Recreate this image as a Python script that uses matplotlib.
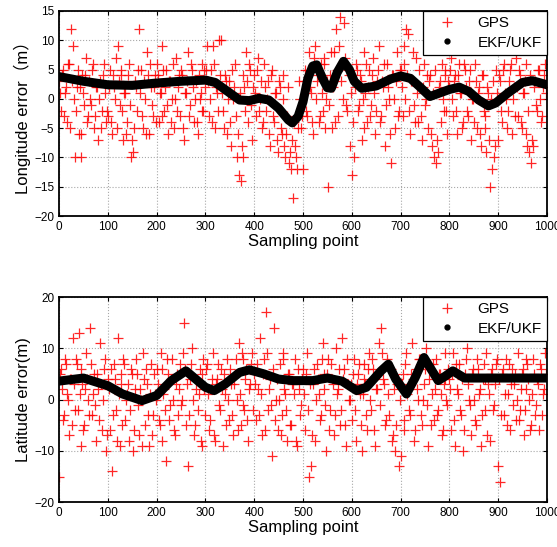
import numpy as np
import matplotlib
matplotlib.use('Agg')
import matplotlib.pyplot as plt

plt.rcParams['font.family'] = ['Liberation Sans', 'Noto Sans CJK SC']

# GPS samples: set A at 0,4,...,996 and set B at 2,6,...,998
gps_x_a = list(range(0, 1000, 4))
gps_x_b = list(range(2, 1000, 4))

lon_gps_a = [
    3, -2, 5, 1, -4, 6, 12, 9, -10, 2, -6, -10, 4, -1, 7, -3, 0, 5, -5, 2, -7, 3, -2, 6, -4,
    -3, 5, -6, 2, 7, 9, -1, 4, -7, 1, -4, 6, -10, -9, 3, -2, 12, 5, -5, 0, 8, -6, 2, -3, 4,
    6, -4, 1, 9, -2, 5, -6, 3, 0, -5, 7, 2, -3, 4, -7, 1, 8, -1, 5, -4, 3, -6, 0, 6, -2,
    2, 9, -3, 5, 9, -5, 1, 10, 10, -2, 4, -6, 3, -8, 0, 6, -10, -13, -14, -10, 2, 8, -4, 5, -7,
    4, -3, 7, 0, -5, 6, -2, 3, -8, 5, -4, 1, -9, 2, -6, 4, -10, -3, -11, -12, -17, -8, -12, 3, -5,
    -12, 5, -3, 8, 1, -6, 9, 3, -4, 6, -2, 7, 0, -15, 4, -5, 8, 12, -3, 14, 6, 13, -1, 5, -8,
    -13, -10, 6, -2, 4, -7, 8, 1, -4, 5, -1, 7, -6, 3, 9, -3, 2, -8, 6, 0, -11, 4, -5, 8, -2,
    5, -3, 9, 12, 11, -6, 3, -1, 7, -4, 2, -7, 6, 0, -5, 4, -8, -10, -11, -9, 3, 6, -2, 5, -6,
    2, 7, -3, 4, -6, 6, 1, -4, 5, -2, 3, -7, 0, 6, -5, 2, -8, 4, -3, -9, 1, -15, -12, -10, 5,
    -7, 3, -4, 6, 0, -2, 5, -6, 2, 7, -3, 4, -5, 1, 6, -8, -9, -11, -8, 3, -2, 5, -4, 2, 6,
]
lon_gps_b = [
    1, 4, -3, 2, 6, -5, 3, 0, -2, 5, 2, -6, 1, 4, -4, 3, -1, 6, -3, 2, 0, -5, 4, 1, -2,
    2, -4, 4, 0, -5, 3, 5, -2, 1, -6, 4, -1, -7, -5, 2, 5, 1, -3, 3, -6, 4, 6, -1, 2, -4,
    4, 1, -3, 5, 2, -1, 3, -4, 6, 0, -2, 4, 5, -5, 1, 3, -3, 6, 2, 0, -4, 4, 1, -2, 5,
    5, 3, 0, -4, 6, 2, -2, 4, 1, -5, 3, 0, -4, 5, 2, -3, -6, 1, -8, 4, -2, 3, 6, -1, 2,
    1, 5, -2, 3, -4, 2, 0, -6, 4, -3, 1, -7, 3, -5, 0, -8, -6, 2, -9, -7, -4, -10, -5, 0, -3,
    3, -2, 5, 2, -4, 7, 0, 4, -3, 1, 6, -5, 3, -1, 8, 2, -4, 5, 9, 3, 0, 7, -2, 4, 1,
    -4, 2, 5, -1, 3, 0, -5, 6, 2, -3, 4, 1, -2, 5, -4, 3, 6, -1, 2, -6, 4, 0, 3, -3, 5,
    2, 6, 0, 4, -2, 3, 8, -4, 1, 5, -3, 2, -1, 4, 3, -6, 1, 5, -7, 2, -4, 0, 4, -2, 3,
    5, 0, 3, -2, 4, 1, -5, 6, 2, -3, 5, 0, -4, 3, 1, -6, 4, -2, -5, 2, -7, 0, 3, -8, 1,
    4, -2, 5, 1, -5, 3, 6, 0, -3, 2, 5, -4, 1, 3, -6, -2, 4, -7, 2, -1, 5, 0, -3, 4, 1,
]

lat_gps_a = [
    -15, 6, -4, 8, 1, -7, 4, 12, -2, 7, 13, -9, 3, -5, 9, 0, 14, -3, 5, -8, 2, 11, -6, 6, -10,
    4, -6, -14, 7, -2, 12, -9, 3, 8, -4, 1, -8, 6, -10, 2, 5, -7, 0, 9, -5, 3, -9, 7, -3, 1,
    6, -4, 9, -8, 2, -12, 5, -1, 8, -6, 3, -3, 7, 0, 15, -5, -13, 4, 10, -7, 2, -2, 6, -9, 8,
    -3, 7, -6, 2, 9, -8, 4, -1, 6, -9, 1, 8, -4, 3, -7, 5, 0, 11, -5, 8, -2, 6, -8, 3, 9,
    5, -4, 2, 12, -7, 8, 17, -2, 4, -11, 14, 0, -6, 7, -3, 9, 1, -8, 5, -5, 3, 8, -9, 2, -1,
    6, -6, 9, -15, -13, 3, -8, 7, 1, -3, 11, 5, -10, 8, -2, 4, -7, 10, 2, -5, 12, 6, -9, 3, 0,
    -4, 8, -8, 5, 1, -10, 7, 3, -6, 9, -2, 6, -9, 2, 11, 14, 4, -5, 8, -3, 6, -7, -10, 3, -13,
    -11, 5, -6, 9, 2, -3, 11, -8, 6, 0, 8, -5, 3, 10, -9, 7, 1, -4, 8, -2, 5, -7, 3, 9, -1,
    4, -6, 9, -9, 2, 7, -3, -10, 5, 10, 0, -7, 6, -4, 8, 1, -9, 4, -2, 9, 3, -8, 6, -1, 7,
    -13, -16, 5, -3, 8, 1, -6, 6, 3, -4, 9, -2, 5, -7, 2, 7, 0, -5, 8, -3, 4, -6, 6, 1, 9,
]
lat_gps_b = [
    5, 2, -3, 7, 0, 4, -5, 3, 8, -2, 1, 6, -6, 2, 4, -3, 7, 1, -1, 5, -4, 3, 0, 8, -7,
    2, 6, -3, 4, -8, 1, 5, -5, 7, 0, 3, -2, 5, -6, 8, -1, 2, -9, 4, 6, -3, 1, -7, 5, 0,
    3, -5, 6, 1, -2, 8, -4, 4, 0, -7, 5, 2, -1, 9, 6, 3, -3, 7, 0, -5, 4, 1, -8, 5, 2,
    6, 1, -4, 4, -7, 3, 7, -2, 2, 5, -5, 0, 6, -3, 3, 8, -6, 1, 9, -1, 4, -4, 2, 7, -2,
    3, 7, -3, 1, 5, -6, 9, 2, -1, 6, -4, 4, 0, -7, 8, 2, -2, 5, -5, 3, 1, -8, 6, -3, 4,
    1, 5, -2, 3, -7, 6, 0, 4, -4, 8, 2, -1, 5, -6, 7, 3, -3, 1, 6, -2, 4, -5, 8, 0, 3,
    5, -2, 3, 7, -5, 1, 4, -3, 6, 0, 8, -6, 2, 5, -1, 9, 3, -4, 1, 6, -8, 2, -5, 4, 0,
    3, -4, 7, 1, -2, 5, 4, -6, 2, 8, -3, 0, 6, -1, 4, -5, 7, 2, -3, 5, 1, -6, 4, 0, 6,
    2, 5, -4, 7, 1, -2, 4, -6, 8, 3, -1, 5, 0, -5, 6, 2, -3, 7, 4, -7, 1, 5, -2, 3, 8,
    4, -3, 6, 1, -5, 7, 3, -1, 5, 0, -4, 2, 6, -2, 8, 4, -6, 1, 5, -1, 3, 7, -3, 2, 5,
]

# filter estimates
lon_ekf_x = [0, 50, 100, 150, 200, 250, 300, 320, 350, 370, 390, 410, 430, 450, 470, 478,
             490, 500, 510, 520, 528, 540, 550, 558, 570, 583, 595, 605, 620, 650, 680, 700,
             720, 740, 760, 780, 800, 820, 840, 860, 880, 895, 920, 950, 970, 1000]
lon_ekf_y = [3.8, 3.0, 2.4, 2.3, 2.7, 3.0, 3.2, 2.8, 1.0, -0.2, -0.3, 0.1, -0.2, -1.6, -3.6, -4.1,
             -3.0, -0.5, 3.5, 5.6, 5.8, 3.5, 1.9, 1.8, 4.5, 6.4, 5.0, 3.0, 1.8, 2.2, 3.4, 3.9,
             3.5, 2.0, 0.4, 1.0, 1.6, 2.0, 1.25, -0.2, -1.2, -0.7, 1.0, 2.8, 3.1, 2.4]

lat_ekf_x = [0, 50, 100, 130, 170, 200, 230, 260, 280, 300, 318, 340, 370, 390, 420, 450, 480,
             520, 550, 580, 610, 630, 660, 675, 690, 712, 730, 748, 762, 777, 792, 807, 831,
             850, 900, 950, 1000]
lat_ekf_y = [3.6, 4.2, 2.7, 1.1, -0.2, 0.8, 3.7, 5.6, 4.0, 2.4, 1.75, 3.0, 5.3, 5.8, 5.0, 4.0, 3.7,
             3.7, 4.2, 3.6, 1.75, 2.4, 5.6, 6.9, 4.0, 1.1, 4.3, 8.2, 6.0, 3.7, 4.6, 5.6, 4.2,
             4.2, 4.2, 4.2, 4.2]

fig = plt.figure(figsize=(5.57, 5.47), dpi=100)
ax1 = fig.add_axes([0.106, 0.605, 0.876, 0.375])
ax2 = fig.add_axes([0.106, 0.082, 0.876, 0.375])


def draw(ax, gps_a, gps_b, ex, ey, ylim, yticks, ylabel):
    ax.plot(gps_x_a + gps_x_b, gps_a + gps_b, '+', color='red', markersize=7,
            markeredgewidth=0.9, alpha=0.85, label='GPS')
    ax.plot(ex, ey, '-', color='black', linewidth=6.5, solid_capstyle='round',
            solid_joinstyle='round')
    ax.plot([], [], '.', color='black', markersize=7, label='EKF/UKF')
    ax.set_xlim(0, 1000)
    ax.set_ylim(*ylim)
    ax.set_xticks(range(0, 1001, 100))
    ax.set_yticks(yticks)
    ax.grid(True, color='#a8a8a8', linestyle=':', linewidth=0.8)
    ax.set_axisbelow(True)
    ax.tick_params(direction='in', top=True, right=True, labelsize=8.5, length=3)
    for s in ax.spines.values():
        s.set_linewidth(1.3)
    ax.set_xlabel('Sampling point', fontsize=12, labelpad=1)
    ax.set_ylabel(ylabel, fontsize=12, labelpad=2)
    leg = ax.legend(loc='upper right', fontsize=11, fancybox=False, framealpha=1,
                    edgecolor='black', borderaxespad=0, handletextpad=0.8,
                    borderpad=0.35, labelspacing=0.35, handlelength=2.4)
    leg.get_frame().set_linewidth(0.9)


draw(ax1, lon_gps_a, lon_gps_b, lon_ekf_x, lon_ekf_y, (-20, 15), range(-20, 16, 5),
     'Longitude error（m）')
draw(ax2, lat_gps_a, lat_gps_b, lat_ekf_x, lat_ekf_y, (-20, 20), range(-20, 21, 10),
     'Latitude error(m)')

fig.savefig('out.png', dpi=100)
